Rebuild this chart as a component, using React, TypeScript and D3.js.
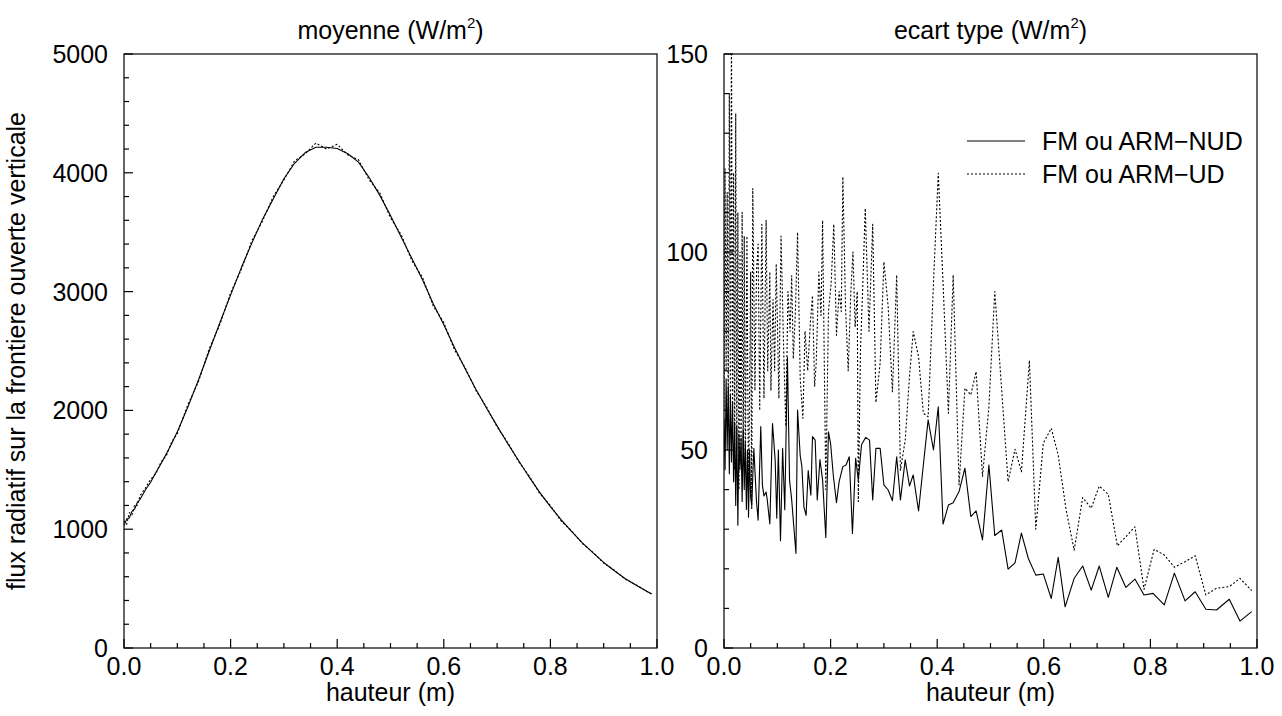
import React from "react";
import * as d3 from "d3";

// ---------- data ----------
// left panel: moyenne
const meanX = [0.0, 0.005, 0.01, 0.015, 0.02, 0.025, 0.03, 0.04, 0.05, 0.06, 0.07, 0.08, 0.09, 0.1, 0.12, 0.14, 0.16, 0.18, 0.2, 0.22, 0.24, 0.26, 0.28, 0.3, 0.32, 0.34, 0.36, 0.38, 0.4, 0.42, 0.44, 0.46, 0.48, 0.5, 0.52, 0.54, 0.56, 0.58, 0.6, 0.62, 0.64, 0.66, 0.68, 0.7, 0.72, 0.74, 0.76, 0.78, 0.8, 0.82, 0.84, 0.86, 0.88, 0.9, 0.92, 0.94, 0.96, 0.98, 0.99];
const meanNUD = [1030, 1085, 1095, 1150, 1170, 1225, 1250, 1330, 1395, 1480, 1555, 1640, 1725, 1820, 2030, 2260, 2500, 2740, 2970, 3200, 3410, 3610, 3780, 3950, 4080, 4170, 4215, 4215, 4205, 4160, 4090, 3960, 3810, 3640, 3460, 3280, 3100, 2900, 2720, 2530, 2350, 2180, 2020, 1870, 1720, 1580, 1440, 1310, 1190, 1080, 980, 885, 800, 720, 650, 585, 530, 480, 455];
const meanUD = [1070, 1040, 1140, 1120, 1205, 1200, 1280, 1345, 1420, 1470, 1570, 1625, 1740, 1805, 2050, 2245, 2520, 2725, 2990, 3185, 3430, 3595, 3800, 3940, 4100, 4160, 4250, 4200, 4240, 4150, 4110, 3940, 3830, 3620, 3480, 3260, 3120, 2880, 2740, 2510, 2360, 2170, 2030, 1860, 1730, 1570, 1450, 1300, 1200, 1070, 985, 880, 805, 715, 655, 580, 535, 478, 455];

// right panel: ecart type
const stdNUDx = [0.0, 0.002, 0.004, 0.006, 0.008, 0.01, 0.012, 0.014, 0.016, 0.018, 0.02, 0.022, 0.024, 0.026, 0.028, 0.03, 0.032, 0.034, 0.036, 0.038, 0.04, 0.042, 0.044, 0.046, 0.048, 0.05, 0.052, 0.056, 0.061, 0.064, 0.069, 0.072, 0.075, 0.079, 0.081, 0.086, 0.091, 0.096, 0.099, 0.102, 0.106, 0.11, 0.114, 0.119, 0.123, 0.127, 0.131, 0.135, 0.138, 0.143, 0.146, 0.15, 0.154, 0.158, 0.163, 0.166, 0.171, 0.175, 0.18, 0.185, 0.191, 0.196, 0.2, 0.205, 0.211, 0.216, 0.223, 0.229, 0.235, 0.241, 0.247, 0.252, 0.258, 0.266, 0.273, 0.279, 0.285, 0.293, 0.3, 0.308, 0.316, 0.324, 0.331, 0.34, 0.348, 0.355, 0.365, 0.374, 0.383, 0.393, 0.402, 0.411, 0.421, 0.43, 0.441, 0.452, 0.463, 0.473, 0.485, 0.497, 0.508, 0.521, 0.533, 0.546, 0.558, 0.571, 0.585, 0.599, 0.614, 0.627, 0.64, 0.657, 0.673, 0.689, 0.704, 0.721, 0.737, 0.754, 0.771, 0.788, 0.805, 0.826, 0.845, 0.865, 0.884, 0.904, 0.924, 0.948, 0.968, 0.99];
const stdNUD = [58, 45, 68, 50, 66, 44, 64, 47, 62, 42, 57, 36, 56, 31, 54, 45, 53, 37, 55, 40, 52, 35, 50, 33, 50, 38, 36, 50.4, 36.9, 32.3, 55.9, 41.2, 38.4, 39.4, 37.6, 31.3, 56.7, 47.5, 32.8, 50.0, 27.1, 50.4, 34.9, 73.4, 42.4, 37.4, 30.6, 23.9, 60.1, 48.5, 46.0, 35.6, 33.5, 44.8, 38.6, 53.4, 52.5, 37.4, 47.6, 42.4, 27.9, 54.6, 51.6, 43.7, 36.7, 42.0, 45.8, 46.2, 48.3, 28.9, 47.9, 42.4, 51.3, 53.2, 52.5, 37.4, 50.4, 50.4, 41.2, 39.9, 37.2, 48.3, 37.4, 47.5, 40.9, 43.7, 34.6, 46.2, 57.6, 50.0, 60.9, 31.3, 36.1, 36.7, 39.5, 45.4, 33.2, 34.6, 27.3, 46.2, 28.4, 29.8, 19.9, 21.5, 29.0, 22.6, 18.4, 18.7, 12.5, 22.9, 10.4, 17.6, 20.7, 14.6, 20.7, 12.8, 20.4, 15.3, 17.4, 13.4, 13.8, 10.9, 18.9, 11.9, 14.2, 9.8, 9.6, 12.3, 6.8, 9.2];

const stdUDx = [0.0, 0.002, 0.004, 0.006, 0.008, 0.01, 0.012, 0.014, 0.016, 0.018, 0.02, 0.022, 0.024, 0.026, 0.028, 0.03, 0.032, 0.034, 0.036, 0.038, 0.04, 0.043, 0.046, 0.05, 0.052, 0.054, 0.058, 0.061, 0.064, 0.067, 0.071, 0.075, 0.079, 0.082, 0.086, 0.088, 0.092, 0.095, 0.098, 0.103, 0.107, 0.112, 0.116, 0.12, 0.124, 0.127, 0.13, 0.134, 0.138, 0.143, 0.148, 0.152, 0.157, 0.162, 0.166, 0.17, 0.173, 0.178, 0.182, 0.185, 0.191, 0.196, 0.201, 0.206, 0.211, 0.216, 0.22, 0.223, 0.228, 0.233, 0.238, 0.242, 0.246, 0.25, 0.252, 0.256, 0.26, 0.265, 0.272, 0.279, 0.285, 0.293, 0.3, 0.308, 0.316, 0.324, 0.331, 0.34, 0.348, 0.355, 0.365, 0.374, 0.383, 0.393, 0.402, 0.411, 0.421, 0.43, 0.441, 0.452, 0.463, 0.473, 0.485, 0.497, 0.508, 0.521, 0.533, 0.546, 0.558, 0.573, 0.585, 0.599, 0.614, 0.627, 0.642, 0.657, 0.673, 0.689, 0.704, 0.721, 0.738, 0.754, 0.771, 0.788, 0.807, 0.826, 0.845, 0.865, 0.884, 0.904, 0.924, 0.948, 0.968, 0.99];
const stdUD = [60, 121, 70, 115, 58, 140, 62, 158, 55, 120, 45, 135, 50, 110, 40, 100, 48, 110, 50, 104, 45, 104, 36, 95, 35, 116, 65, 95, 102, 60, 107, 63, 108, 70, 95, 65, 88, 70, 97, 63, 104, 75, 56, 90, 80, 94, 73, 85, 105, 68, 58, 80, 70, 82, 89, 66, 72, 95, 84, 108, 40, 85, 92, 107, 79, 90, 85, 119, 86, 70, 90, 100, 81, 90, 37, 75, 90, 111, 80, 107, 62, 72, 97.5, 86.2, 64.7, 94.2, 44.9, 52.5, 68.5, 79.9, 73.6, 59.3, 58.4, 92.1, 119.9, 92.1, 59.3, 94.2, 41.2, 65.6, 63.9, 69.8, 43.4, 60.9, 90.0, 65.1, 42.0, 50.2, 44.5, 72.6, 30.0, 51.7, 55.5, 48.7, 34.8, 24.7, 38.0, 35.3, 40.9, 38.8, 25.8, 28.1, 30.6, 14.8, 24.9, 23.5, 20.4, 21.8, 23.3, 13.4, 15.1, 15.5, 17.6, 14.5];

const xTickLabels = ["0.0", "0.2", "0.4", "0.6", "0.8", "1.0"];
const meanTicks = [0, 1000, 2000, 3000, 4000, 5000];
const stdTicks = [0, 50, 100, 150];
const legendLabels = ["FM ou ARM\u2212NUD", "FM ou ARM\u2212UD"];

// ---------- layout ----------
const W = 1282;
const H = 716;
const TOP = 54;
const BOTTOM = 648;
const FONT = "'Liberation Sans', Arial, Helvetica, sans-serif";
const FS = 25;
const DOT = "2 2";

type PanelProps = {
  id: string;
  x0: number;
  x1: number;
  yMax: number;
  yMajor: number[];
  yMinorStep: number;
  title: string;
  series: { x: number[]; y: number[]; dashed: boolean }[];
  children?: React.ReactNode;
};

function Panel({ id, x0, x1, yMax, yMajor, yMinorStep, title, series, children }: PanelProps) {
  const xs = d3.scaleLinear().domain([0, 1]).range([x0, x1]);
  const ys = d3.scaleLinear().domain([0, yMax]).range([BOTTOM, TOP]);
  const line = d3
    .line<[number, number]>()
    .x((d) => xs(d[0]))
    .y((d) => ys(d[1]));
  const xMajor = xTickLabels.map((t) => +t);
  const xMinor = d3.range(0, 1.0001, 0.05).filter((v) => !xMajor.some((m) => Math.abs(m - v) < 1e-6));
  const yMinor = d3.range(0, yMax + 1e-6, yMinorStep).filter((v) => !yMajor.includes(v));
  const cx = (x0 + x1) / 2;
  return (
    <g>
      <defs>
        <clipPath id={id}>
          <rect x={x0} y={TOP} width={x1 - x0} height={BOTTOM - TOP} />
        </clipPath>
      </defs>
      <g clipPath={`url(#${id})`}>
        {series.map((s, i) => (
          <path
            key={i}
            d={line(s.x.map((v, k) => [v, s.y[k]] as [number, number])) || ""}
            fill="none"
            stroke="#000"
            strokeWidth={1.1}
            strokeDasharray={s.dashed ? DOT : undefined}
            strokeLinejoin="round"
          />
        ))}
      </g>
      <rect x={x0} y={TOP} width={x1 - x0} height={BOTTOM - TOP} fill="none" stroke="#000" strokeWidth={1.2} />
      {xMajor.map((v, i) => (
        <g key={"xm" + i}>
          <line x1={xs(v)} x2={xs(v)} y1={BOTTOM} y2={BOTTOM - 9} stroke="#000" strokeWidth={1.2} />
          <text x={xs(v)} y={675} textAnchor="middle" fontSize={FS} fontFamily={FONT}>
            {xTickLabels[i]}
          </text>
        </g>
      ))}
      {xMinor.map((v, i) => (
        <line key={"xn" + i} x1={xs(v)} x2={xs(v)} y1={BOTTOM} y2={BOTTOM - 5} stroke="#000" strokeWidth={1.2} />
      ))}
      {yMajor.map((v, i) => (
        <g key={"ym" + i}>
          <line x1={x0} x2={x0 + 9} y1={ys(v)} y2={ys(v)} stroke="#000" strokeWidth={1.2} />
          <text x={x0 - 16} y={ys(v) + 9} textAnchor="end" fontSize={FS} fontFamily={FONT}>
            {v}
          </text>
        </g>
      ))}
      {yMinor.map((v, i) => (
        <line key={"yn" + i} x1={x0} x2={x0 + 5} y1={ys(v)} y2={ys(v)} stroke="#000" strokeWidth={1.2} />
      ))}
      <text x={cx} y={39} textAnchor="middle" fontSize={FS} fontFamily={FONT}>
        {title} (W/m
        <tspan dy={-11} fontSize={15}>2</tspan>
        <tspan dy={11}>)</tspan>
      </text>
      <text x={cx} y={701} textAnchor="middle" fontSize={FS} fontFamily={FONT}>
        hauteur (m)
      </text>
      {children}
    </g>
  );
}

export default function App() {
  return (
    <svg
      width={W}
      height={H}
      viewBox={`0 0 ${W} ${H}`}
      style={{ position: "absolute", left: 0, top: 0, background: "#fff" }}
    >
      <rect x={0} y={0} width={W} height={H} fill="#fff" />
      <text
        transform={`translate(25, ${(TOP + BOTTOM) / 2}) rotate(-90)`}
        textAnchor="middle"
        fontSize={FS}
        fontFamily={FONT}
      >
        flux radiatif sur la frontiere ouverte verticale
      </text>
      <Panel
        id="clipL"
        x0={124}
        x1={657}
        yMax={5000}
        yMajor={meanTicks}
        yMinorStep={200}
        title="moyenne"
        series={[
          { x: meanX, y: meanNUD, dashed: false },
          { x: meanX, y: meanUD, dashed: true },
        ]}
      />
      <Panel
        id="clipR"
        x0={724}
        x1={1257}
        yMax={150}
        yMajor={stdTicks}
        yMinorStep={10}
        title="ecart type"
        series={[
          { x: stdNUDx, y: stdNUD, dashed: false },
          { x: stdUDx, y: stdUD, dashed: true },
        ]}
      >
        <line x1={967} x2={1025} y1={141} y2={141} stroke="#000" strokeWidth={1.1} />
        <text x={1042} y={150} fontSize={FS} fontFamily={FONT}>
          {legendLabels[0]}
        </text>
        <line x1={967} x2={1025} y1={174} y2={174} stroke="#000" strokeWidth={1.1} strokeDasharray={DOT} />
        <text x={1042} y={183} fontSize={FS} fontFamily={FONT}>
          {legendLabels[1]}
        </text>
      </Panel>
    </svg>
  );
}
